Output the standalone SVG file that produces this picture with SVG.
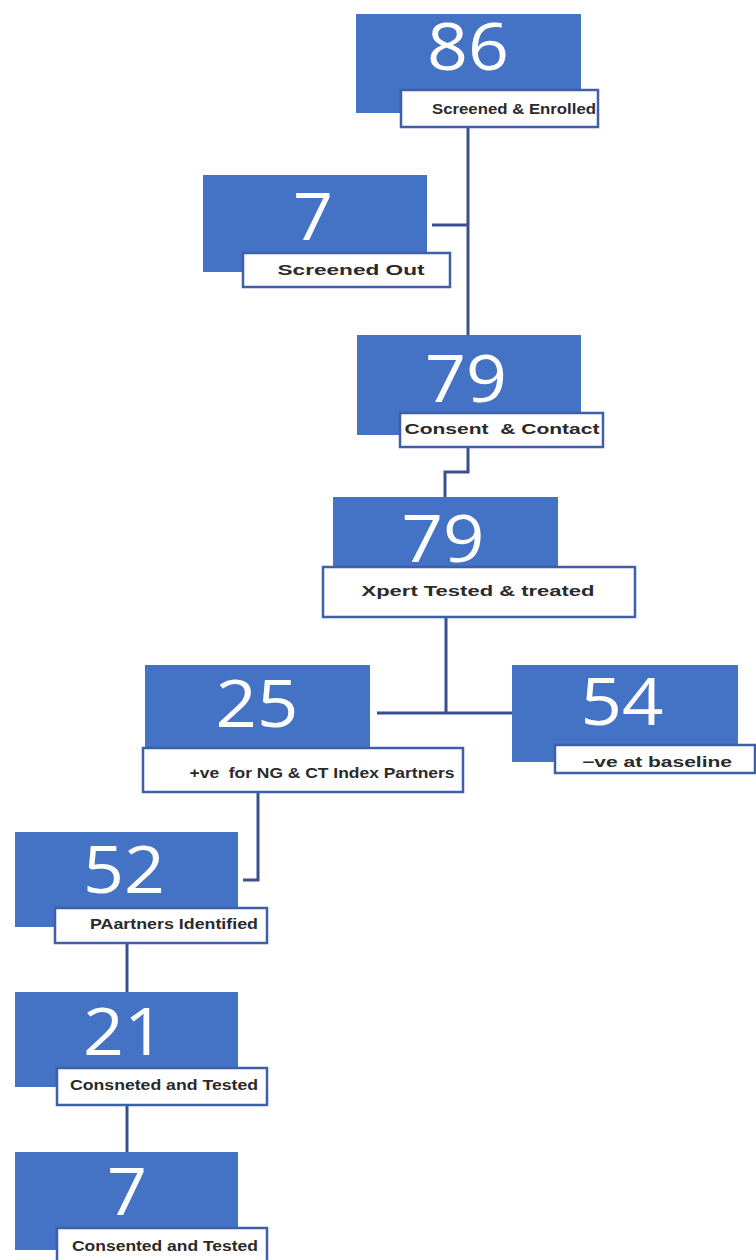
<svg xmlns="http://www.w3.org/2000/svg" width="756" height="1260" viewBox="0 0 756 1260">
<style>
.blue{fill:#4472C4;}
.lab{fill:#ffffff;stroke:#3F5FA8;stroke-width:2.5;}
.num{font-family:"Open Sans","Liberation Sans",sans-serif;font-size:66px;font-weight:500;fill:#ffffff;text-anchor:middle;}
.txt{font-family:"Liberation Sans",Arial,sans-serif;font-size:14px;font-weight:bold;fill:#2a2a2a;text-anchor:middle;white-space:pre;}
.con{fill:none;stroke:#3B4E8E;stroke-width:3;}
</style>
<rect width="756" height="1260" fill="#ffffff"/>
<g id="connectors">
<path class="con" d="M468,127 V335"/>
<path class="con" d="M432,225 H468"/>
<path class="con" d="M468,447 V472 H445 V497"/>
<path class="con" d="M446,617 V713"/>
<path class="con" d="M377,713 H512"/>
<path class="con" d="M258,792 V880 H243"/>
<path class="con" d="M127,943 V992"/>
<path class="con" d="M127,1105 V1152"/>
</g>
<g id="n86">
<rect class="blue" x="356" y="14" width="225" height="99"/>
<text class="num" x="468" y="70" textLength="82" lengthAdjust="spacingAndGlyphs">86</text>
<rect class="lab" x="401" y="90" width="197" height="37"/>
<text class="txt" x="514" y="114" textLength="164" lengthAdjust="spacingAndGlyphs">Screened &amp; Enrolled</text>
</g>
<g id="n7a">
<rect class="blue" x="203" y="175" width="224" height="97"/>
<text class="num" x="313" y="240" textLength="40" lengthAdjust="spacingAndGlyphs">7</text>
<rect class="lab" x="243" y="253" width="207" height="34"/>
<text class="txt" x="351" y="275" textLength="147" lengthAdjust="spacingAndGlyphs">Screened Out</text>
</g>
<g id="n79a">
<rect class="blue" x="357" y="335" width="224" height="100"/>
<text class="num" x="466" y="402" textLength="82" lengthAdjust="spacingAndGlyphs">79</text>
<rect class="lab" x="400" y="413" width="203" height="34"/>
<text class="txt" x="502" y="434" textLength="195" lengthAdjust="spacingAndGlyphs">Consent  &amp; Contact</text>
</g>
<g id="n79b">
<rect class="blue" x="333" y="497" width="225" height="80"/>
<text class="num" x="443" y="562" textLength="83" lengthAdjust="spacingAndGlyphs">79</text>
<rect class="lab" x="323" y="567" width="312" height="50"/>
<text class="txt" x="478" y="596" textLength="233" lengthAdjust="spacingAndGlyphs">Xpert Tested &amp; treated</text>
</g>
<g id="n25">
<rect class="blue" x="145" y="665" width="225" height="90"/>
<text class="num" x="257" y="727" textLength="83" lengthAdjust="spacingAndGlyphs">25</text>
<rect class="lab" x="143" y="748" width="320" height="44"/>
<text class="txt" x="322" y="778" textLength="265" lengthAdjust="spacingAndGlyphs">+ve  for NG &amp; CT Index Partners</text>
</g>
<g id="n54">
<rect class="blue" x="512" y="665" width="226" height="97"/>
<text class="num" x="622" y="725" textLength="83" lengthAdjust="spacingAndGlyphs">54</text>
<rect class="lab" x="555" y="745" width="200" height="28"/>
<text class="txt" x="657" y="767" textLength="150" lengthAdjust="spacingAndGlyphs">−ve at baseline</text>
</g>
<g id="n52">
<rect class="blue" x="15" y="832" width="223" height="95"/>
<text class="num" x="124" y="893" textLength="82" lengthAdjust="spacingAndGlyphs">52</text>
<rect class="lab" x="55" y="908" width="212" height="35"/>
<text class="txt" x="174" y="929" textLength="168" lengthAdjust="spacingAndGlyphs">PAartners Identified</text>
</g>
<g id="n21">
<rect class="blue" x="15" y="992" width="223" height="95"/>
<text class="num" x="124" y="1055" textLength="82" lengthAdjust="spacingAndGlyphs">21</text>
<rect class="lab" x="57" y="1068" width="210" height="37"/>
<text class="txt" x="164" y="1090" textLength="188" lengthAdjust="spacingAndGlyphs">Consneted and Tested</text>
</g>
<g id="n7b">
<rect class="blue" x="15" y="1152" width="223" height="98"/>
<text class="num" x="127" y="1215" textLength="40" lengthAdjust="spacingAndGlyphs">7</text>
<rect class="lab" x="57" y="1228" width="210" height="40"/>
<text class="txt" x="165" y="1251" textLength="186" lengthAdjust="spacingAndGlyphs">Consented and Tested</text>
</g>
</svg>
